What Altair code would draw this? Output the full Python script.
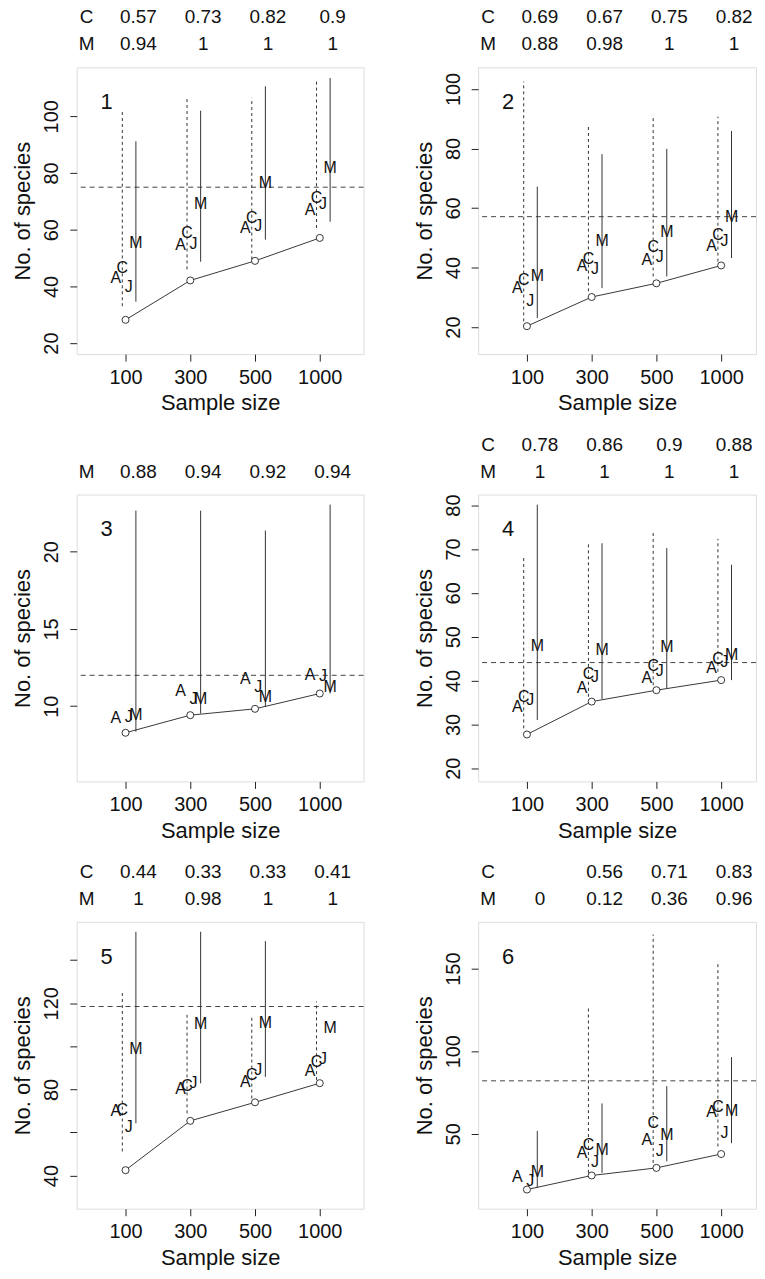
import json
import altair as alt
import pandas as pd

FONT = "Liberation Sans"
SAMPLE_SIZES = ["100", "300", "500", "1000"]

# ---------------- panel 1 ----------------
P1_OBS = [28.2, 42.1, 49.0, 57.1]
P1_TRUE = 75.0
P1_C_LO = [33.0, 46.0, 49.5, 60.6]
P1_C_HI = [102.0, 106.7, 106.5, 112.3]
P1_M_LO = [34.6, 48.7, 56.5, 62.8]
P1_M_HI = [91.2, 102.0, 110.6, 113.5]
P1_A = [43.0, 54.5, 60.6, 66.9]
P1_C = [46.5, 58.9, 64.2, 71.2]
P1_J = [39.8, 54.8, 61.2, 68.9]
P1_M = [55.2, 69.2, 76.5, 81.6]
P1_COV_C = ["0.57", "0.73", "0.82", "0.9"]
P1_COV_M = ["0.94", "1", "1", "1"]
P1_YDOM = [16.1, 117.3]
P1_YTICKS = [20, 40, 60, 80, 100]

# ---------------- panel 2 ----------------
P2_OBS = [20.3, 30.1, 34.7, 40.7]
P2_TRUE = 57.1
P2_C_LO = [21.9, 32.0, 37.0, 42.0]
P2_C_HI = [102.5, 87.4, 91.3, 90.7]
P2_M_LO = [23.0, 33.1, 37.0, 43.2]
P2_M_HI = [67.2, 78.1, 79.9, 85.9]
P2_A = [33.1, 40.4, 42.4, 47.4]
P2_C = [35.9, 42.9, 46.9, 50.8]
P2_J = [28.6, 39.6, 43.7, 48.8]
P2_M = [37.2, 48.8, 52.1, 57.1]
P2_COV_C = ["0.69", "0.67", "0.75", "0.82"]
P2_COV_M = ["0.88", "0.98", "1", "1"]
P2_YDOM = [10.9, 107.3]
P2_YTICKS = [20, 40, 60, 80, 100]

# ---------------- panel 3 ----------------
P3_OBS = [8.28, 9.42, 9.83, 10.82]
P3_TRUE = 12.0
P3_C_LO = [None, None, None, None]
P3_C_HI = [None, None, None, None]
P3_M_LO = [8.35, 9.53, 9.96, 10.82]
P3_M_HI = [22.66, 22.66, 21.37, 23.05]
P3_A = [9.25, 10.97, 11.74, 12.04]
P3_C = [None, None, None, None]
P3_J = [9.28, 10.49, 11.24, 11.95]
P3_M = [9.42, 10.49, 10.6, 11.24]
P3_COV_C = None
P3_COV_M = ["0.88", "0.94", "0.92", "0.94"]
P3_YDOM = [5.13, 23.7]
P3_YTICKS = [10, 15, 20]

# ---------------- panel 4 ----------------
P4_OBS = [27.7, 35.2, 37.8, 40.1]
P4_TRUE = 44.1
P4_C_LO = [29.1, 36.3, 38.9, 42.0]
P4_C_HI = [68.6, 71.7, 73.8, 72.3]
P4_M_LO = [31.0, 35.8, 38.2, 40.1]
P4_M_HI = [80.1, 71.3, 70.2, 66.4]
P4_A = [34.0, 38.3, 40.6, 42.9]
P4_C = [36.3, 41.4, 43.3, 45.0]
P4_J = [35.5, 40.7, 42.2, 44.2]
P4_M = [47.9, 46.9, 47.7, 45.8]
P4_COV_C = ["0.78", "0.86", "0.9", "0.88"]
P4_COV_M = ["1", "1", "1", "1"]
P4_YDOM = [17.0, 82.4]
P4_YTICKS = [20, 30, 40, 50, 60, 70, 80]

# ---------------- panel 5 ----------------
P5_OBS = [42.5, 65.4, 74.0, 82.9]
P5_TRUE = 118.5
P5_C_LO = [51.2, 68.9, 75.8, 84.3]
P5_C_HI = [125.1, 114.6, 114.6, 120.8]
P5_M_LO = [64.3, 82.8, 85.8, None]
P5_M_HI = [153.2, 153.2, 148.9, None]
P5_A = [70.0, 80.0, 83.5, 88.5]
P5_C = [70.4, 81.4, 86.8, 92.8]
P5_J = [62.5, 82.8, 89.2, 94.3]
P5_M = [98.9, 110.5, 110.8, 108.6]
P5_COV_C = ["0.44", "0.33", "0.33", "0.41"]
P5_COV_M = ["1", "0.98", "1", "1"]
P5_YDOM = [24.6, 157.8]
P5_YTICKS = [40, 60, 80, 100, 120, 140]
P5_YLABELS = [40, 80, 120]

# ---------------- panel 6 ----------------
P6_OBS = [16.3, 24.8, 29.4, 37.8]
P6_TRUE = 82.1
P6_C_LO = [None, 26.4, 32.4, 42.4]
P6_C_HI = [None, 127.0, 170.6, 154.6]
P6_M_LO = [17.3, 26.4, 33.4, 44.4]
P6_M_HI = [51.8, 68.4, 78.9, 96.5]
P6_A = [23.9, 38.4, 46.0, 63.4]
P6_C = [None, 43.4, 56.8, 66.4]
P6_J = [21.3, 32.8, 39.4, 50.4]
P6_M = [26.8, 40.4, 49.4, 63.8]
P6_COV_C = ["", "0.56", "0.71", "0.83"]
P6_COV_M = ["0", "0.12", "0.36", "0.96"]
P6_YDOM = [4.7, 178.3]
P6_YTICKS = [50, 100, 150]

PANELS = [
    dict(n="1", obs=P1_OBS, true=P1_TRUE, clo=P1_C_LO, chi=P1_C_HI, mlo=P1_M_LO, mhi=P1_M_HI,
         A=P1_A, C=P1_C, J=P1_J, M=P1_M, covc=P1_COV_C, covm=P1_COV_M, ydom=P1_YDOM,
         yticks=P1_YTICKS, ylabels=P1_YTICKS),
    dict(n="2", obs=P2_OBS, true=P2_TRUE, clo=P2_C_LO, chi=P2_C_HI, mlo=P2_M_LO, mhi=P2_M_HI,
         A=P2_A, C=P2_C, J=P2_J, M=P2_M, covc=P2_COV_C, covm=P2_COV_M, ydom=P2_YDOM,
         yticks=P2_YTICKS, ylabels=P2_YTICKS),
    dict(n="3", obs=P3_OBS, true=P3_TRUE, clo=P3_C_LO, chi=P3_C_HI, mlo=P3_M_LO, mhi=P3_M_HI,
         A=P3_A, C=P3_C, J=P3_J, M=P3_M, covc=P3_COV_C, covm=P3_COV_M, ydom=P3_YDOM,
         yticks=P3_YTICKS, ylabels=P3_YTICKS),
    dict(n="4", obs=P4_OBS, true=P4_TRUE, clo=P4_C_LO, chi=P4_C_HI, mlo=P4_M_LO, mhi=P4_M_HI,
         A=P4_A, C=P4_C, J=P4_J, M=P4_M, covc=P4_COV_C, covm=P4_COV_M, ydom=P4_YDOM,
         yticks=P4_YTICKS, ylabels=P4_YTICKS),
    dict(n="5", obs=P5_OBS, true=P5_TRUE, clo=P5_C_LO, chi=P5_C_HI, mlo=P5_M_LO, mhi=P5_M_HI,
         A=P5_A, C=P5_C, J=P5_J, M=P5_M, covc=P5_COV_C, covm=P5_COV_M, ydom=P5_YDOM,
         yticks=P5_YTICKS, ylabels=P5_YLABELS),
    dict(n="6", obs=P6_OBS, true=P6_TRUE, clo=P6_C_LO, chi=P6_C_HI, mlo=P6_M_LO, mhi=P6_M_HI,
         A=P6_A, C=P6_C, J=P6_J, M=P6_M, covc=P6_COV_C, covm=P6_COV_M, ydom=P6_YDOM,
         yticks=P6_YTICKS, ylabels=P6_YTICKS),
]

PX_PER_UNIT = 65.0
X_LEFT = 0.246
LETTER_OFFSETS = {"A": -0.15, "C": -0.05, "J": 0.05, "M": 0.16}
C_LINE_OFF = -0.05
M_LINE_OFF = 0.16
COV_OFF = 0.2
COV_LABEL_X = 0.4


def build_panel(p, width, height=288):
    idx = [1, 2, 3, 4]
    xs = alt.Scale(domain=[X_LEFT, X_LEFT + width / PX_PER_UNIT], nice=False, zero=False)
    ys = alt.Scale(domain=p["ydom"], nice=False, zero=False)
    lab_list = json.dumps(SAMPLE_SIZES)
    show = json.dumps(p["ylabels"])
    xaxis = alt.Axis(values=idx, labelExpr=f"{lab_list}[datum.value - 1]", title="Sample size",
                     grid=False, domain=False, tickSize=7, tickColor="#222", labelPadding=6,
                     labelFontSize=20, labelColor="#111", labelFont=FONT,
                     titleFontSize=22, titleFontWeight="normal", titleColor="#111", titleFont=FONT,
                     titlePadding=6, minExtent=33, maxExtent=33)
    yaxis = alt.Axis(values=p["yticks"],
                     labelExpr=f"indexof({show}, datum.value) >= 0 ? datum.label : ''",
                     title="No. of species", grid=False, domain=False, tickSize=7, tickColor="#222",
                     labelAngle=270, labelAlign="center", labelBaseline="alphabetic", labelPadding=12,
                     labelFontSize=20, labelColor="#111", labelFont=FONT,
                     titleAngle=270, titleAlign="center", titleBaseline="alphabetic",
                     titleFontSize=22, titleFontWeight="normal", titleColor="#111", titleFont=FONT,
                     titlePadding=7, minExtent=40, maxExtent=40)

    def X(field="x"):
        return alt.X(f"{field}:Q", scale=xs, axis=xaxis)

    def Y(field="y"):
        return alt.Y(f"{field}:Q", scale=ys, axis=yaxis)

    obs = pd.DataFrame({"x": idx, "y": p["obs"]})

    crows = [dict(x=i + C_LINE_OFF, y=lo, y2=hi) for i, lo, hi in zip(idx, p["clo"], p["chi"])
             if lo is not None and hi is not None]
    mrows = [dict(x=i + M_LINE_OFF, y=lo, y2=hi) for i, lo, hi in zip(idx, p["mlo"], p["mhi"])
             if lo is not None and hi is not None]

    layers = []
    layers.append(alt.Chart(obs).mark_line(color="#222", strokeWidth=0.9).encode(x=X(), y=Y()))

    true_df = pd.DataFrame({"y": [p["true"]]})
    layers.append(alt.Chart(true_df).mark_rule(color="#444", strokeWidth=1, strokeDash=[5, 4]).encode(
        y=Y()))
    if crows:
        layers.append(alt.Chart(pd.DataFrame(crows)).mark_rule(
            color="#333", strokeWidth=1, strokeDash=[3, 3]).encode(x=X(), y=Y(), y2="y2:Q"))
    if mrows:
        layers.append(alt.Chart(pd.DataFrame(mrows)).mark_rule(
            color="#333", strokeWidth=1).encode(x=X(), y=Y(), y2="y2:Q"))

    layers.append(alt.Chart(obs).mark_point(shape="circle", size=50, filled=True, fill="white",
                                            stroke="#222", strokeWidth=0.9, opacity=1).encode(
        x=X(), y=Y()))

    lrows = []
    for letter in ["A", "C", "J", "M"]:
        for i, v in zip(idx, p[letter]):
            if v is not None:
                lrows.append(dict(x=i + LETTER_OFFSETS[letter], y=v, t=letter))
    layers.append(alt.Chart(pd.DataFrame(lrows)).mark_text(
        font=FONT, fontSize=16, color="#111", align="center", baseline="middle").encode(
        x=X(), y=Y(), text="t:N"))

    for label, vals, ypix in [("C", p["covc"], -50), ("M", p["covm"], -23)]:
        if vals is None:
            continue
        rows = [dict(x=COV_LABEL_X, t=label)]
        rows += [dict(x=i + COV_OFF, t=v) for i, v in zip(idx, vals) if v]
        layers.append(alt.Chart(pd.DataFrame(rows)).mark_text(
            font=FONT, fontSize=19, color="#111", align="center", baseline="middle").encode(
            x=X(), y=alt.value(ypix), text="t:N"))

    layers.append(alt.Chart(pd.DataFrame({"t": [p["n"]]})).mark_text(
        font=FONT, fontSize=22, color="#111", align="center", baseline="middle").encode(
        x=alt.value(30), y=alt.value(35), text="t:N"))

    return alt.layer(*layers).properties(width=width, height=height)


panels = []
for k, p in enumerate(PANELS):
    w = 288 if k % 2 == 0 else 279
    panels.append(build_panel(p, w))

chart = alt.concat(*panels, columns=2, spacing={"row": 141, "column": 115}).properties(
    bounds="flush",
    padding={"left": 3, "top": -3, "right": 0, "bottom": -2},
).configure_view(stroke="#222", strokeWidth=1).configure(font=FONT)

chart.save("out.html", embed_options={"renderer": "svg", "actions": False})
